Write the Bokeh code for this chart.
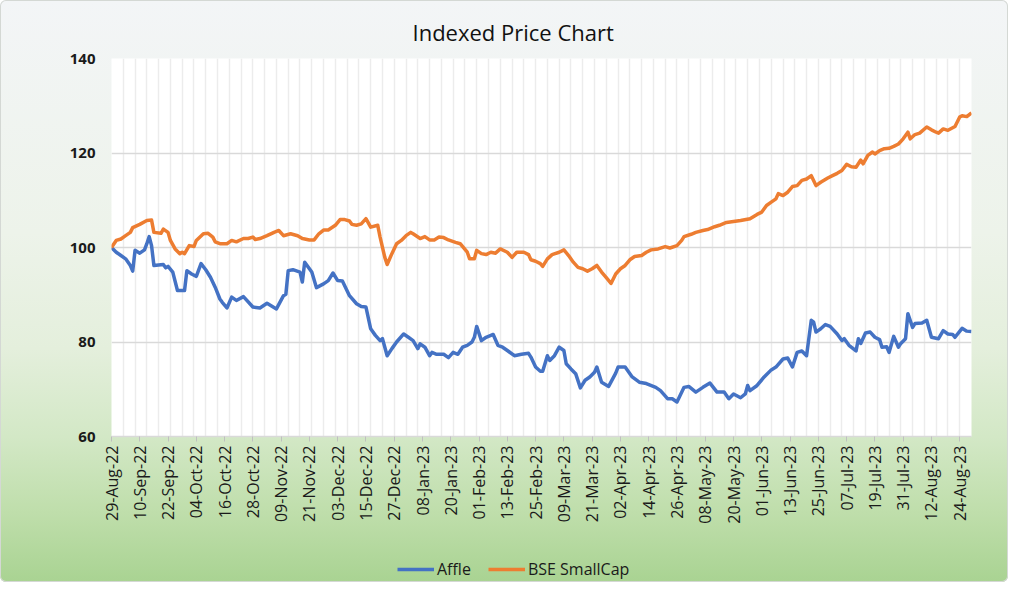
import pandas as pd
from bokeh.plotting import figure
from bokeh.layouts import column
from bokeh.models import FixedTicker, Legend, LegendItem, Range1d, DatetimeTickFormatter
from bokeh.embed import file_html
from bokeh.resources import INLINE

# ---------------- data ----------------
start_date = "2022-08-29"
end_date = "2023-08-29"

# days since 29-Aug-2022 and indexed values
affle_days = [0, 2, 4, 6, 8, 9, 10, 12, 14, 15, 16, 17, 18, 22, 23, 24, 26, 28, 31, 32,
              34, 36, 38, 40, 42, 44, 46, 47, 49, 51, 53, 56, 60, 63, 66, 70, 73, 74, 75, 77,
              80, 81, 82, 85, 87, 90, 92, 94, 96, 98, 101, 104, 106, 108, 110, 112, 114, 115, 117, 119,
              121, 124, 126, 128, 130, 131, 133, 135, 136, 138, 141, 143, 145, 147, 149, 151, 153, 154, 155, 157,
              159, 162, 164, 166, 168, 171, 174, 177, 178, 180, 182, 183, 185, 186, 188, 190, 192, 193, 195, 197,
              199, 201, 203, 205, 206, 208, 211, 214, 215, 218, 221, 224, 227, 231, 233, 236, 238, 240, 243, 245,
              248, 251, 254, 257, 260, 262, 264, 267, 269, 270, 271, 274, 277, 280, 282, 285, 287, 289, 291, 293,
              295, 297, 298, 299, 301, 303, 305, 308, 310, 311, 313, 316, 317, 318, 320, 322, 324, 326, 327, 329,
              330, 332, 334, 335, 337, 338, 340, 341, 344, 346, 348, 351, 353, 355, 357, 358, 361, 363, 365]
affle_values = [100.0, 99.0, 98.3, 97.6, 96.2, 95.0, 99.4, 98.8, 99.5, 100.8, 102.3, 100.4, 96.2, 96.4, 95.7, 96.0, 94.8, 90.9, 90.9, 95.1,
                94.4, 93.9, 96.6, 95.3, 93.7, 91.6, 89.1, 88.4, 87.2, 89.5, 88.8, 89.6, 87.4, 87.2, 88.2, 87.0, 89.8, 90.1, 95.1, 95.3,
                94.8, 92.7, 96.9, 94.8, 91.5, 92.3, 93.0, 94.6, 93.0, 92.9, 89.8, 88.1, 87.5, 87.4, 82.8, 81.4, 80.3, 80.7, 77.1, 78.6,
                80.0, 81.7, 81.0, 80.3, 78.6, 79.6, 78.9, 77.1, 77.8, 77.4, 77.4, 76.7, 77.8, 77.4, 78.9, 79.3, 80.0, 81.0, 83.3, 80.3,
                81.0, 81.6, 79.3, 78.9, 78.2, 77.1, 77.4, 77.6, 76.8, 74.7, 73.8, 73.8, 77.1, 76.1, 77.1, 78.9, 78.2, 75.4, 74.3, 73.3,
                70.3, 71.9, 72.6, 73.6, 74.7, 71.5, 70.6, 73.4, 74.7, 74.7, 72.6, 71.5, 71.2, 70.4, 69.7, 68.0, 68.0, 67.3, 70.4, 70.6,
                69.4, 70.4, 71.3, 69.4, 69.4, 68.0, 69.0, 68.2, 69.0, 70.8, 69.7, 70.8, 72.6, 74.1, 74.7, 76.4, 76.6, 74.7, 77.8, 78.1,
                77.1, 84.6, 84.2, 82.1, 82.8, 83.7, 83.3, 81.7, 80.3, 80.7, 79.3, 78.1, 80.7, 79.7, 81.9, 82.1, 81.0, 80.5, 78.9, 79.0,
                77.8, 81.2, 78.9, 79.7, 80.7, 86.0, 83.1, 83.9, 84.0, 84.6, 81.0, 80.7, 82.4, 81.7, 81.6, 81.0, 82.9, 82.3, 82.2]

bse_days = [0, 2, 4, 6, 8, 9, 12, 15, 17, 18, 21, 22, 24, 25, 27, 29, 30, 31, 33, 35,
            36, 39, 41, 43, 44, 46, 49, 51, 53, 56, 58, 60, 61, 63, 66, 69, 71, 73, 76, 79,
            81, 84, 86, 88, 90, 92, 95, 97, 99, 101, 102, 104, 106, 108, 110, 113, 114, 116, 117, 119,
            121, 123, 125, 127, 128, 131, 133, 135, 137, 139, 141, 143, 146, 148, 151, 152, 154, 155, 157, 159,
            161, 163, 165, 168, 170, 172, 175, 177, 178, 180, 182, 183, 185, 187, 190, 192, 194, 196, 198, 200,
            202, 204, 206, 208, 210, 212, 214, 216, 218, 220, 222, 225, 227, 229, 232, 235, 237, 240, 242, 243,
            246, 248, 251, 253, 256, 258, 261, 264, 267, 271, 274, 276, 278, 280, 282, 283, 285, 287, 289, 291,
            293, 295, 297, 299, 301, 304, 306, 308, 310, 312, 314, 316, 318, 319, 321, 323, 324, 326, 328, 330,
            332, 334, 336, 338, 339, 341, 343, 346, 348, 350, 351, 353, 355, 358, 360, 361, 363, 365]
bse_values = [100.0, 101.5, 101.8, 102.5, 103.2, 104.2, 104.9, 105.7, 105.8, 103.2, 103.0, 103.9, 103.2, 101.5, 99.7, 98.7, 99.0, 98.7, 100.4, 100.2,
              101.5, 102.9, 103.0, 102.2, 101.2, 100.8, 100.8, 101.5, 101.2, 101.9, 101.9, 102.2, 101.7, 101.9, 102.5, 103.2, 103.6, 102.5, 102.9, 102.5,
              101.9, 101.6, 101.6, 102.9, 103.7, 103.7, 104.7, 105.9, 105.9, 105.6, 104.9, 104.7, 105.0, 106.1, 104.3, 104.7, 102.2, 97.9, 96.4, 98.7,
              100.8, 101.5, 102.5, 103.2, 102.9, 101.9, 102.3, 101.6, 101.6, 102.2, 102.1, 101.6, 101.1, 100.8, 99.0, 97.6, 97.6, 99.4, 98.7, 98.5,
              99.0, 98.8, 99.7, 99.0, 97.9, 99.0, 99.0, 98.5, 97.4, 97.1, 96.6, 96.0, 97.6, 98.5, 99.0, 99.5, 98.3, 96.9, 95.8, 95.5,
              95.0, 95.5, 96.2, 94.8, 93.6, 92.4, 94.4, 95.5, 96.2, 97.4, 98.1, 98.3, 99.0, 99.5, 99.7, 100.2, 99.9, 100.4, 101.5, 102.3,
              102.8, 103.2, 103.6, 103.8, 104.4, 104.7, 105.3, 105.5, 105.7, 106.1, 107.0, 107.5, 108.9, 109.6, 110.3, 111.4, 111.0, 111.7, 112.9, 113.1,
              114.2, 114.5, 115.2, 113.1, 113.8, 114.7, 115.2, 115.7, 116.3, 117.6, 117.1, 117.0, 118.5, 117.7, 119.5, 120.2, 119.8, 120.5, 120.9, 121.0,
              121.4, 121.9, 123.0, 124.4, 123.0, 123.9, 124.2, 125.5, 124.9, 124.4, 124.2, 125.1, 124.8, 125.6, 127.6, 127.9, 127.7, 128.5]

series_names = ["Affle", "BSE SmallCap"]
tick_labels = ["29-Aug-22", "10-Sep-22", "22-Sep-22", "04-Oct-22", "16-Oct-22", "28-Oct-22",
               "09-Nov-22", "21-Nov-22", "03-Dec-22", "15-Dec-22", "27-Dec-22", "08-Jan-23",
               "20-Jan-23", "01-Feb-23", "13-Feb-23", "25-Feb-23", "09-Mar-23", "21-Mar-23",
               "02-Apr-23", "14-Apr-23", "26-Apr-23", "08-May-23", "20-May-23", "01-Jun-23",
               "13-Jun-23", "25-Jun-23", "07-Jul-23", "19-Jul-23", "31-Jul-23", "12-Aug-23", "24-Aug-23"]
y_ticks = [60, 80, 100, 120, 140]

# ---------------- build ----------------
base = pd.Timestamp(start_date)
end = pd.Timestamp(end_date)
affle_x = base + pd.to_timedelta(affle_days, unit="D")
bse_x = base + pd.to_timedelta(bse_days, unit="D")

tick_dates = pd.to_datetime(tick_labels, format="%d-%b-%y")
tick_ms = [int(t.value // 10**6) for t in tick_dates]
grid_ms = [int(t.value // 10**6) for t in pd.date_range(base, end, freq="5D")]

FONT = "Open Sans"
BLUE = "#4472C4"
ORANGE = "#ED7D31"
COLORS = [BLUE, ORANGE]

p = figure(x_axis_type="datetime", frame_width=860, frame_height=378,
           min_border_left=111, min_border_right=37, min_border_top=58, min_border_bottom=96,
           x_range=Range1d(base, end), y_range=Range1d(60, 140),
           output_backend="svg", toolbar_location=None, title="Indexed Price Chart")
p.border_fill_color = None
p.background_fill_color = "white"
p.outline_line_color = None

p.title.text_font = FONT
p.title.text_font_size = "22px"
p.title.text_font_style = "normal"
p.title.text_color = "#111111"
p.title.align = "left"
p.title.offset = 301
p.title.standoff = 24

p.line(affle_x, affle_values, line_color=BLUE, line_width=3.5, line_join="round")
p.line(bse_x, bse_values, line_color=ORANGE, line_width=3.5, line_join="round")

# axes
xa = p.xaxis[0]
xa.ticker = FixedTicker(ticks=tick_ms)
fmt = "%d-%b-%y"
xa.formatter = DatetimeTickFormatter(days=fmt, months=fmt, years=fmt, hours=fmt,
                                     hourmin=fmt, minutes=fmt, seconds=fmt, milliseconds=fmt,
                                     minsec=fmt, microseconds=fmt)
xa.major_label_orientation = 3.14159265 / 2
xa.axis_line_color = "#d9d9d9"
xa.axis_line_width = 1.5
xa.major_tick_line_color = "#bfbfbf"
xa.major_tick_out = 5
xa.major_tick_in = 0
xa.minor_tick_line_color = None
xa.major_label_text_font = FONT
xa.major_label_text_font_size = "16px"
xa.major_label_text_color = "#1a1a1a"
xa.major_label_standoff = 4

ya = p.yaxis[0]
ya.ticker = FixedTicker(ticks=y_ticks)
ya.axis_line_color = None
ya.major_tick_line_color = None
ya.minor_tick_line_color = None
ya.major_tick_out = 0
ya.major_label_standoff = 16
ya.major_label_text_font = FONT
ya.major_label_text_font_size = "15px"
ya.major_label_text_font_style = "bold"
ya.major_label_text_color = "#1a1a1a"

p.xgrid.ticker = FixedTicker(ticks=grid_ms)
p.xgrid.grid_line_color = "#ececec"
p.xgrid.grid_line_width = 1.5
p.ygrid.ticker = FixedTicker(ticks=y_ticks)
p.ygrid.grid_line_color = "#d9d9d9"
p.ygrid.grid_line_width = 1.5

# legend strip underneath (its own small canvas so nothing is clipped)
pl = figure(width=1008, height=50, min_border=0, x_range=(0, 1), y_range=(0, 1),
            x_axis_location=None, y_axis_location=None,
            output_backend="svg", toolbar_location=None)
pl.grid.visible = False
pl.outline_line_color = None
pl.border_fill_color = None
pl.background_fill_color = None
items = []
for name, col in zip(series_names, COLORS):
    # proxy renderers (a single point outside the view) that only feed the legend swatches
    rr = pl.line(x=[-5, -4], y=[-5, -4], line_color=col, line_width=3.5)
    items.append(LegendItem(label=name, renderers=[rr]))
legend = Legend(items=items, orientation="horizontal", location=(286, 2))
legend.padding = 0
legend.margin = 0
legend.spacing = 17
legend.glyph_width = 37
legend.glyph_height = 20
legend.label_standoff = 3
legend.label_text_font = FONT
legend.label_text_font_size = "16px"
legend.label_text_color = "#1a1a1a"
legend.border_line_color = None
legend.background_fill_alpha = 0
pl.add_layout(legend, "center")

page = column(p, pl, spacing=0)
page.styles = {
    "background": "linear-gradient(to bottom, #f3f5f7 0%, #edf3ea 40%, #e4efdc 60%, #d3e8c6 75%, #bfdeab 88%, #a9d392 100%)",
    "border-radius": "6px",
    "box-shadow": "inset 0 0 0 1px #d4d8d4",
}

open("out.html", "w").write(file_html(page, INLINE))
